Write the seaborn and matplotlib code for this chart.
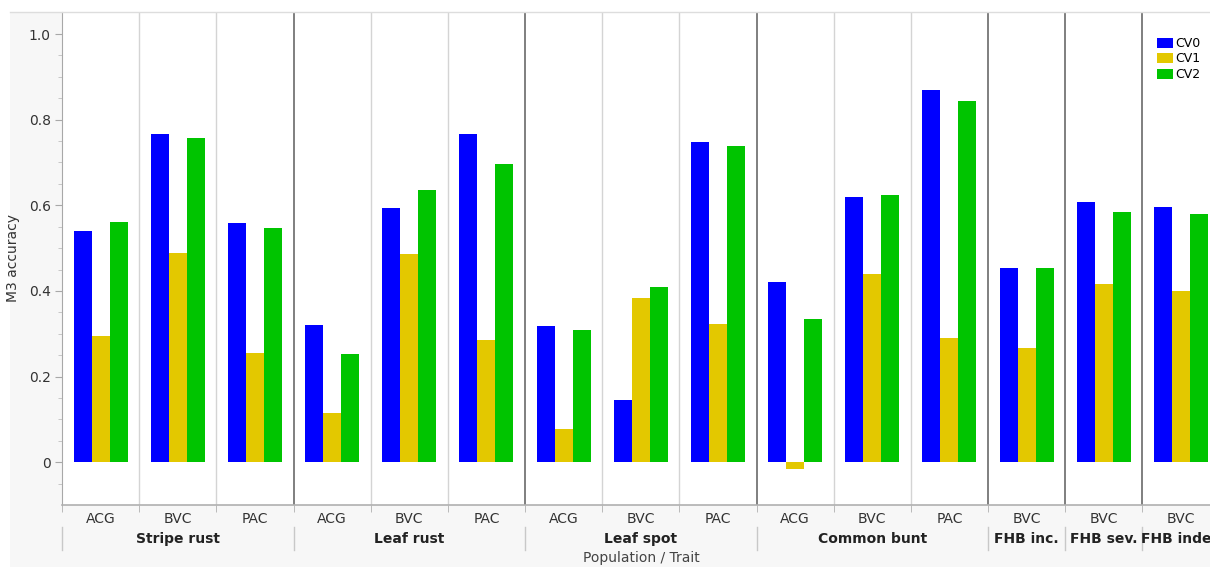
import pandas as pd
import matplotlib.pyplot as plt
import matplotlib.transforms as mtransforms
from matplotlib.lines import Line2D
from matplotlib.patches import Rectangle
import seaborn as sns

# Traits, populations per trait, and M3 accuracy per CV scheme
traits = ['Stripe rust', 'Leaf rust', 'Leaf spot', 'Common bunt', 'FHB inc.', 'FHB sev.', 'FHB index']
populations = [['ACG', 'BVC', 'PAC'], ['ACG', 'BVC', 'PAC'], ['ACG', 'BVC', 'PAC'],
               ['ACG', 'BVC', 'PAC'], ['BVC'], ['BVC'], ['BVC']]
cv_names = ['CV0', 'CV1', 'CV2']

cv0 = [0.541, 0.767, 0.559, 0.321, 0.593, 0.767, 0.318, 0.145, 0.749,
       0.422, 0.620, 0.869, 0.454, 0.608, 0.596]
cv1 = [0.295, 0.489, 0.256, 0.114, 0.486, 0.286, 0.078, 0.383, 0.322,
       -0.015, 0.440, 0.291, 0.267, 0.416, 0.399]
cv2 = [0.561, 0.758, 0.547, 0.254, 0.636, 0.696, 0.309, 0.409, 0.738,
       0.335, 0.625, 0.844, 0.454, 0.585, 0.579]

colors = {'CV0': '#0000FF', 'CV1': '#E3C800', 'CV2': '#00C400'}

# long table for seaborn
keys, pops = [], []
for t, plist in zip(traits, populations):
    for p in plist:
        keys.append(f'{t}|{p}')
        pops.append(p)

rows = []
for cv, vals in zip(cv_names, [cv0, cv1, cv2]):
    for k, v in zip(keys, vals):
        rows.append({'key': k, 'cv': cv, 'value': v})
df = pd.DataFrame(rows)

W, H = 1210, 567
fig = plt.figure(figsize=(W / 100, H / 100), dpi=100, facecolor='white')

# light gray panel behind the plot
fig.patches.append(Rectangle((10 / W, 0), 1, 1 - 12 / H, transform=fig.transFigure,
                             facecolor='#f7f7f7', edgecolor='none', zorder=-10))

ax = fig.add_axes([62 / W, (H - 505) / H, (W - 62) / W, (505 - 12) / H])
ax.set_facecolor('white')

sns.barplot(data=df, x='key', y='value', hue='cv', order=keys, hue_order=cv_names,
            palette=colors, width=0.7, saturation=1, ax=ax, legend=True)

n = len(keys)
ax.set_xlim(-0.5, n - 0.5 - 9.5 / 77.14)
ax.set_ylim(-0.0997, 1.0514)

# vertical separators between populations / traits
bounds = [i + 0.5 for i in range(n - 1)]
trait_starts = []
idx = 0
for plist in populations:
    trait_starts.append(idx)
    idx += len(plist)
for b in bounds:
    dark = (b + 0.5) in trait_starts
    ax.axvline(b, color='#6a6a6a' if dark else '#d4d4d4', lw=1.2 if dark else 1.0, zorder=0)

# spines
for s in ['top', 'right']:
    ax.spines[s].set_visible(False)
ax.spines['left'].set_color('#a8a8a8')
ax.spines['bottom'].set_color('#b0b0b0')
ax.spines['bottom'].set_linewidth(1.2)

# y ticks
ax.set_yticks([0, 0.2, 0.4, 0.6, 0.8, 1.0])
ax.set_yticklabels(['0', '0.2', '0.4', '0.6', '0.8', '1.0'])
ax.set_yticks([-0.05 + 0.05 * i for i in range(22) if i % 4 != 1], minor=True)
ax.tick_params(axis='y', which='major', length=5, color='#a8a8a8', labelsize=10,
               labelcolor='#333333', pad=3)
ax.tick_params(axis='y', which='minor', length=3, color='#c0c0c0')

# x ticks: labels at centres, tick marks at boundaries
ax.set_xticks(range(n))
ax.set_xticklabels(pops)
ax.set_xticks([-0.5] + bounds, minor=True)
ax.tick_params(axis='x', which='major', length=0, labelsize=10, labelcolor='#333333', pad=5)
ax.tick_params(axis='x', which='minor', length=5, color='#b0b0b0')
ax.set_xlabel('')
ax.set_ylabel('M3 accuracy', fontsize=10, color='#333333')
ax.yaxis.set_label_coords((20 - 62) / (W - 62), 0.5)

# trait row below population labels
trans = mtransforms.blended_transform_factory(ax.transData, fig.transFigure)
for t, s, plist in zip(traits, trait_starts, populations):
    x0 = s - 0.5
    ax.add_line(Line2D([x0, x0], [(H - 527) / H, (H - 550) / H], transform=trans,
                       color='#c8c8c8', lw=1.0, clip_on=False))
    ax.text(s + (len(plist) - 1) / 2, (H - 539) / H, t, transform=trans, ha='center',
            va='center', fontsize=10, fontweight='bold', color='#222222', clip_on=False)

fig.text(641 / W, (H - 558) / H, 'Population / Trait', ha='center', va='center',
         fontsize=10, color='#444444')

# thin top border line
fig.add_artist(Line2D([10 / W, 1], [(H - 12) / H, (H - 12) / H], transform=fig.transFigure,
                      color='#dddddd', lw=1.0))

# legend
handles, labels = ax.get_legend_handles_labels()
ax.legend(handles, labels, loc='upper left', bbox_to_anchor=((1157 - 62) / (W - 62), (505 - 37) / 493),
          frameon=False, fontsize=9, handlelength=1.3, handleheight=0.9,
          handletextpad=0.2, labelspacing=0.2, borderpad=0, borderaxespad=0)

fig.savefig('out.png', dpi=100, facecolor='white')
